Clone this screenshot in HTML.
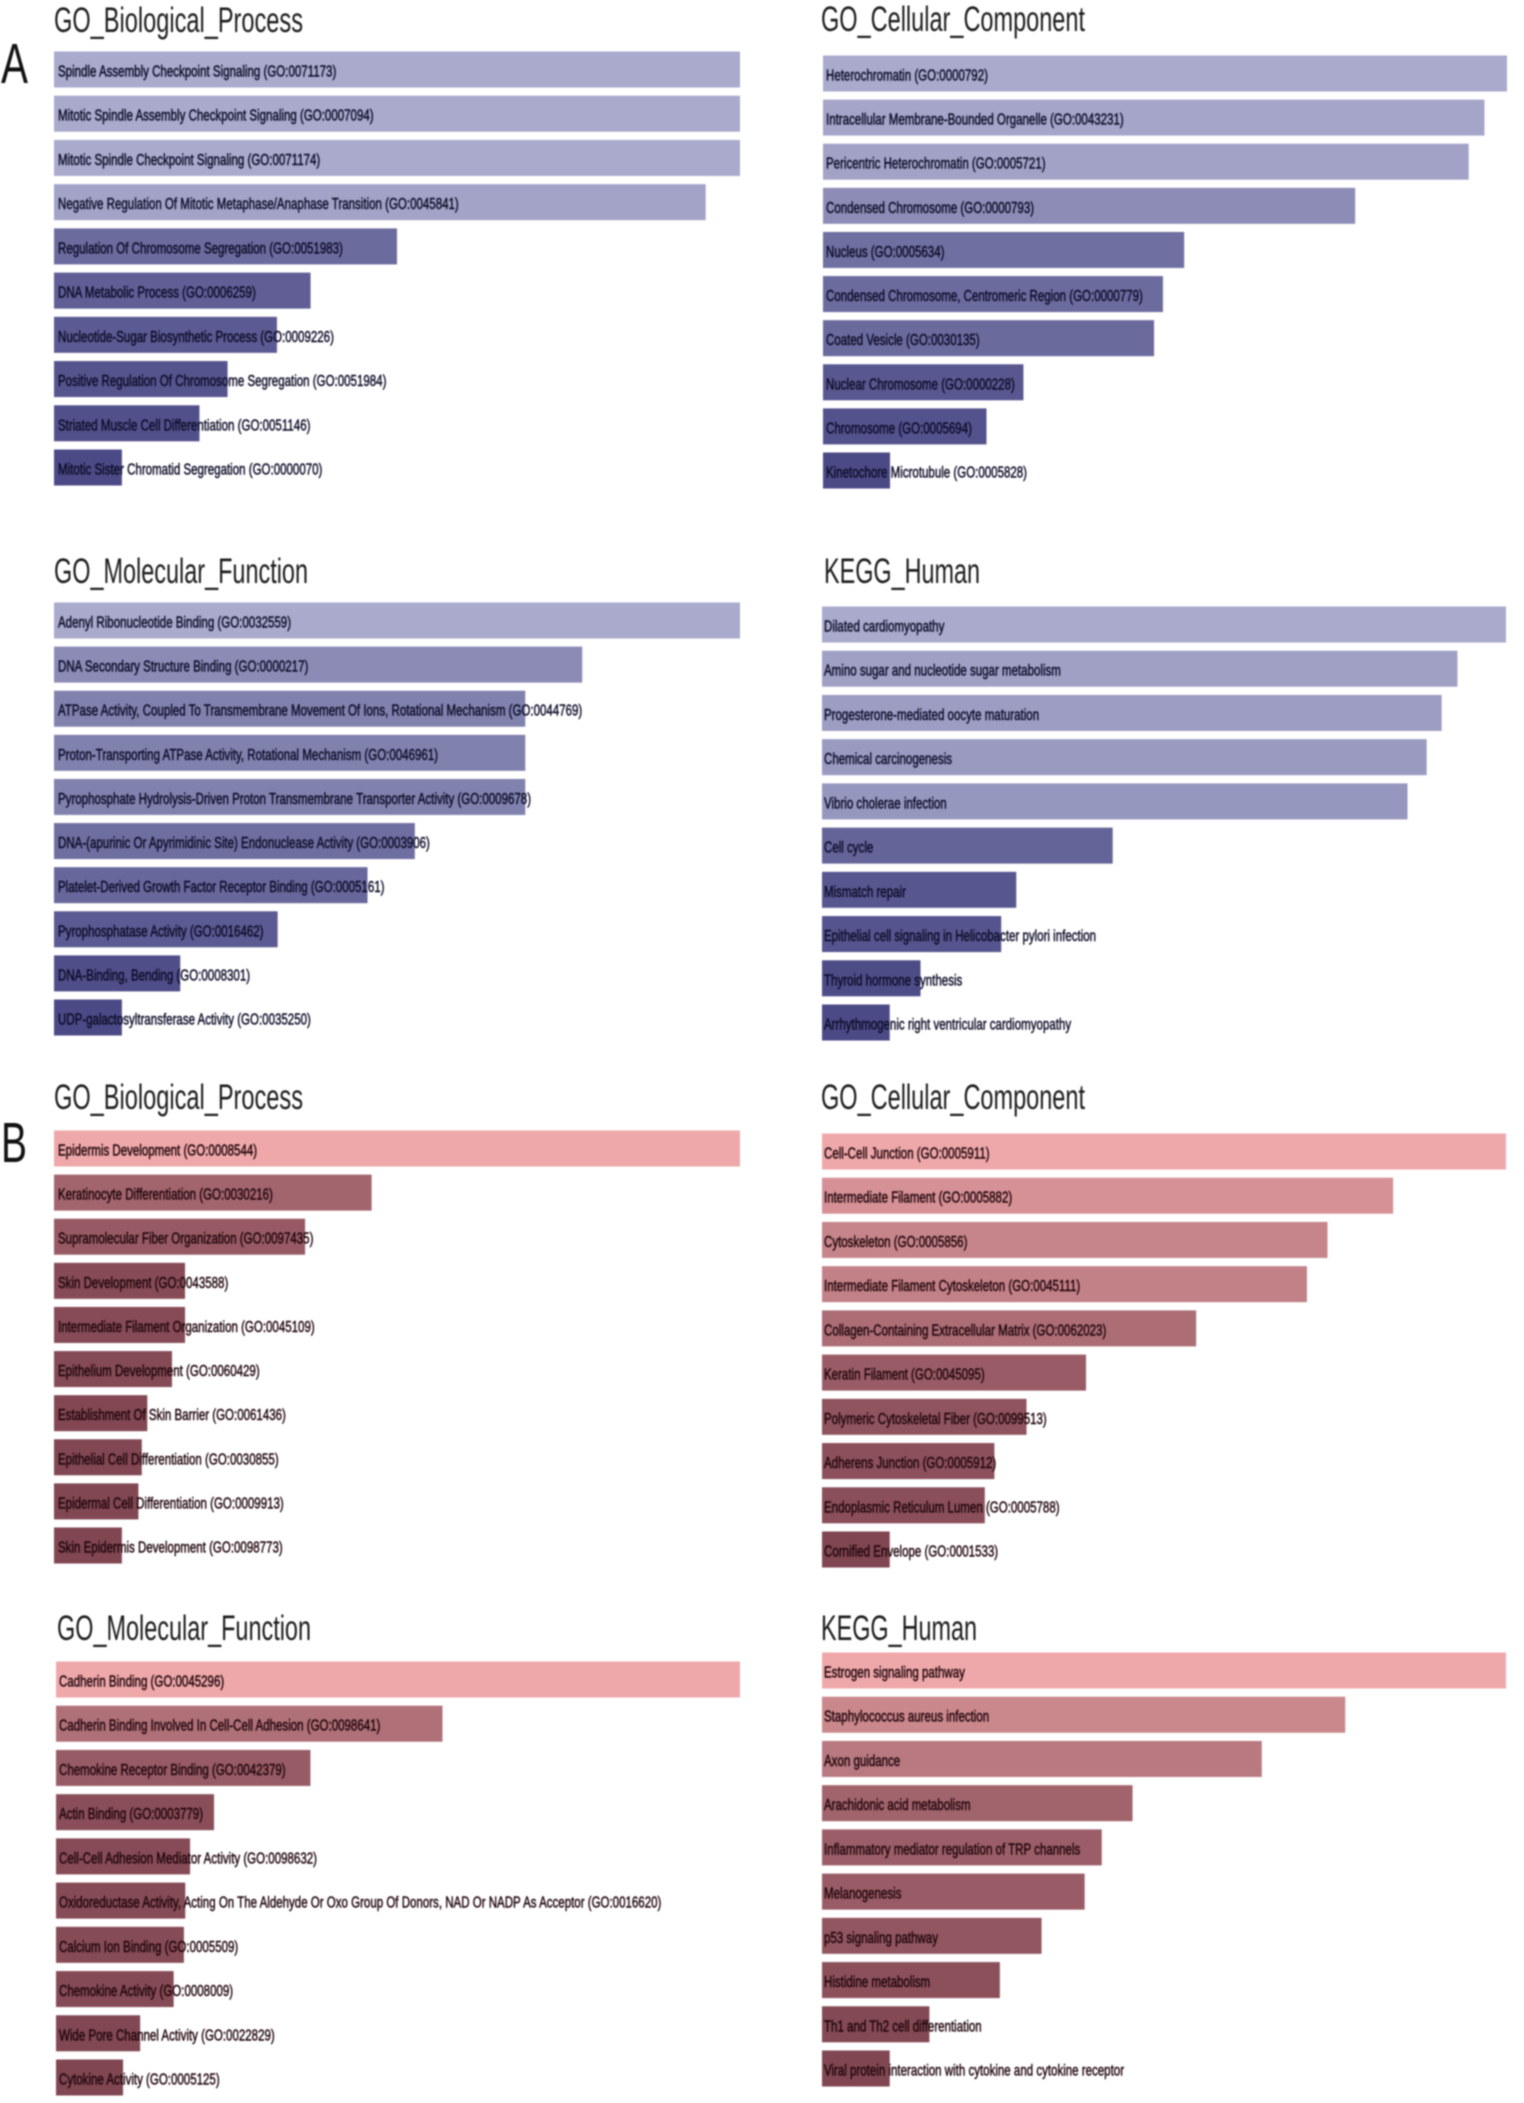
<!DOCTYPE html>
<html lang="en">
<head>
<meta charset="utf-8">
<title>Enrichment bar charts</title>
<style>
html,body{margin:0;padding:0;background:#fff;width:1524px;height:2103px;overflow:hidden}
svg{display:block;filter:blur(0.8px)}
text{font-family:"Liberation Sans",sans-serif}
</style>
</head>
<body>
<svg id="figure" xmlns="http://www.w3.org/2000/svg" width="1524" height="2103" viewBox="0 0 1524 2103">
<rect x="0" y="0" width="1524" height="2103" fill="#ffffff"/>
<text x="1" y="83" font-size="57" textLength="27" lengthAdjust="spacingAndGlyphs" fill="#111">A</text>
<text x="1" y="1162" font-size="57" textLength="26" lengthAdjust="spacingAndGlyphs" fill="#111">B</text>
</svg>
<script>
const aBpTerms = ["Spindle Assembly Checkpoint Signaling (GO:0071173)","Mitotic Spindle Assembly Checkpoint Signaling (GO:0007094)","Mitotic Spindle Checkpoint Signaling (GO:0071174)","Negative Regulation Of Mitotic Metaphase/Anaphase Transition (GO:0045841)","Regulation Of Chromosome Segregation (GO:0051983)","DNA Metabolic Process (GO:0006259)","Nucleotide-Sugar Biosynthetic Process (GO:0009226)","Positive Regulation Of Chromosome Segregation (GO:0051984)","Striated Muscle Cell Differentiation (GO:0051146)","Mitotic Sister Chromatid Segregation (GO:0000070)"];
const aBpScores = [100,100,100,95,50,37.4,32.5,25.3,21.2,9.9];

const aCcTerms = ["Heterochromatin (GO:0000792)","Intracellular Membrane-Bounded Organelle (GO:0043231)","Pericentric Heterochromatin (GO:0005721)","Condensed Chromosome (GO:0000793)","Nucleus (GO:0005634)","Condensed Chromosome, Centromeric Region (GO:0000779)","Coated Vesicle (GO:0030135)","Nuclear Chromosome (GO:0000228)","Chromosome (GO:0005694)","Kinetochore Microtubule (GO:0005828)"];
const aCcScores = [100,96.7,94.4,77.8,52.8,49.7,48.4,29.3,23.9,9.8];

const aMfTerms = ["Adenyl Ribonucleotide Binding (GO:0032559)","DNA Secondary Structure Binding (GO:0000217)","ATPase Activity, Coupled To Transmembrane Movement Of Ions, Rotational Mechanism (GO:0044769)","Proton-Transporting ATPase Activity, Rotational Mechanism (GO:0046961)","Pyrophosphate Hydrolysis-Driven Proton Transmembrane Transporter Activity (GO:0009678)","DNA-(apurinic Or Apyrimidinic Site) Endonuclease Activity (GO:0003906)","Platelet-Derived Growth Factor Receptor Binding (GO:0005161)","Pyrophosphatase Activity (GO:0016462)","DNA-Binding, Bending (GO:0008301)","UDP-galactosyltransferase Activity (GO:0035250)"];
const aMfScores = [100,77,68.7,68.7,68.7,52.6,45.7,32.6,18.4,9.9];

const aKeggTerms = ["Dilated cardiomyopathy","Amino sugar and nucleotide sugar metabolism","Progesterone-mediated oocyte maturation","Chemical carcinogenesis","Vibrio cholerae infection","Cell cycle","Mismatch repair","Epithelial cell signaling in Helicobacter pylori infection","Thyroid hormone synthesis","Arrhythmogenic right ventricular cardiomyopathy"];
const aKeggScores = [100,92.9,90.6,88.4,85.6,42.5,28.4,26.2,14.4,9.9];

const bBpTerms = ["Epidermis Development (GO:0008544)","Keratinocyte Differentiation (GO:0030216)","Supramolecular Fiber Organization (GO:0097435)","Skin Development (GO:0043588)","Intermediate Filament Organization (GO:0045109)","Epithelium Development (GO:0060429)","Establishment Of Skin Barrier (GO:0061436)","Epithelial Cell Differentiation (GO:0030855)","Epidermal Cell Differentiation (GO:0009913)","Skin Epidermis Development (GO:0098773)"];
const bBpScores = [100,46.3,36.6,19.1,19.1,17.2,13.6,12.8,12.3,9.9];

const bCcTerms = ["Cell-Cell Junction (GO:0005911)","Intermediate Filament (GO:0005882)","Cytoskeleton (GO:0005856)","Intermediate Filament Cytoskeleton (GO:0045111)","Collagen-Containing Extracellular Matrix (GO:0062023)","Keratin Filament (GO:0045095)","Polymeric Cytoskeletal Fiber (GO:0099513)","Adherens Junction (GO:0005912)","Endoplasmic Reticulum Lumen (GO:0005788)","Cornified Envelope (GO:0001533)"];
const bCcScores = [100,83.5,73.9,70.9,54.7,38.6,29.9,25.2,23.8,9.9];

const bMfTerms = ["Cadherin Binding (GO:0045296)","Cadherin Binding Involved In Cell-Cell Adhesion (GO:0098641)","Chemokine Receptor Binding (GO:0042379)","Actin Binding (GO:0003779)","Cell-Cell Adhesion Mediator Activity (GO:0098632)","Oxidoreductase Activity, Acting On The Aldehyde Or Oxo Group Of Donors, NAD Or NADP As Acceptor (GO:0016620)","Calcium Ion Binding (GO:0005509)","Chemokine Activity (GO:0008009)","Wide Pore Channel Activity (GO:0022829)","Cytokine Activity (GO:0005125)"];
const bMfScores = [100,56.5,37.2,23.1,19.6,18.9,18.7,17.2,12.3,9.8];

const bKeggTerms = ["Estrogen signaling pathway","Staphylococcus aureus infection","Axon guidance","Arachidonic acid metabolism","Inflammatory mediator regulation of TRP channels","Melanogenesis","p53 signaling pathway","Histidine metabolism","Th1 and Th2 cell differentiation","Viral protein interaction with cytokine and cytokine receptor"];
const bKeggScores = [100,76.5,64.3,45.4,40.9,38.4,32.1,26,15.7,9.9];

const SVG_NS = "http://www.w3.org/2000/svg";
const BLUE_RAMP = {light:[169,170,204], dark:[76,74,134], ink:"#0c0c28"};
const RED_RAMP = {light:[238,168,170], dark:[128,70,82], ink:"#20060c"};
const figure = document.getElementById("figure");

function scoreColor(v, ramp){
  const t = Math.pow(Math.max(0, (v - 10) / 90), 1.3);
  const c = ramp.dark.map((d, i) => Math.round(d + (ramp.light[i] - d) * t));
  return "rgb(" + c.join(",") + ")";
}

function drawPanel(p){
  const g = document.createElementNS(SVG_NS, "g");
  
  
  figure.appendChild(g);

  const title = document.createElementNS(SVG_NS, "text");
  
  
  title.setAttribute("x", p.titleX);
  title.setAttribute("y", p.titleY);
  title.setAttribute("font-size", 35);
  title.setAttribute("fill", "#1c1c1c");
  title.setAttribute("textLength", p.titleW);
  title.setAttribute("lengthAdjust", "spacingAndGlyphs");
  title.textContent = p.title;
  g.appendChild(title);

  const xScale = v => p.plotW * v / 100;
  const yScale = i => p.y0 + (p.y9 - p.y0) * i / (p.terms.length - 1);

  p.scores.forEach((v, i) => {
    const bar = document.createElementNS(SVG_NS, "rect");
    
    
    bar.setAttribute("x", p.x0);
    bar.setAttribute("y", yScale(i) - 18.5);
    bar.setAttribute("width", xScale(v));
    bar.setAttribute("height", 36);
    bar.setAttribute("fill", scoreColor(v, p.ramp));
    g.appendChild(bar);
  });

  p.terms.forEach((term, i) => {
    const label = document.createElementNS(SVG_NS, "text");
    
    
    label.setAttribute("transform", "translate(" + (p.x0 + p.labelDx) + "," + (yScale(i) + 6.5) + ") scale(0.72,1)");
    label.setAttribute("font-size", 16);
    label.setAttribute("fill", p.ramp.ink);
    label.setAttribute("stroke", p.ramp.ink);
    label.setAttribute("stroke-width", 0.45);
    label.textContent = term;
    g.appendChild(label);
  });
}

const panels = [
  {name:"panel-a-biological-process", title:"GO_Biological_Process", titleX:54, titleY:32, titleW:249, x0:54, plotW:686, labelDx:4, y0:70, y9:468, terms:aBpTerms, scores:aBpScores, ramp:BLUE_RAMP},
  {name:"panel-a-cellular-component", title:"GO_Cellular_Component", titleX:821, titleY:31, titleW:264, x0:823, plotW:684, labelDx:3, y0:74, y9:471, terms:aCcTerms, scores:aCcScores, ramp:BLUE_RAMP},
  {name:"panel-a-molecular-function", title:"GO_Molecular_Function", titleX:54, titleY:583, titleW:254, x0:54, plotW:686, labelDx:4, y0:621, y9:1018, terms:aMfTerms, scores:aMfScores, ramp:BLUE_RAMP},
  {name:"panel-a-kegg-human", title:"KEGG_Human", titleX:824, titleY:583, titleW:156, x0:822, plotW:684, labelDx:2, y0:625, y9:1023, terms:aKeggTerms, scores:aKeggScores, ramp:BLUE_RAMP},
  {name:"panel-b-biological-process", title:"GO_Biological_Process", titleX:54, titleY:1109, titleW:249, x0:54, plotW:686, labelDx:4, y0:1149, y9:1546, terms:bBpTerms, scores:bBpScores, ramp:RED_RAMP},
  {name:"panel-b-cellular-component", title:"GO_Cellular_Component", titleX:821, titleY:1109, titleW:264, x0:822, plotW:684, labelDx:2, y0:1152, y9:1550, terms:bCcTerms, scores:bCcScores, ramp:RED_RAMP},
  {name:"panel-b-molecular-function", title:"GO_Molecular_Function", titleX:57, titleY:1640, titleW:254, x0:56, plotW:684, labelDx:3, y0:1680, y9:2078, terms:bMfTerms, scores:bMfScores, ramp:RED_RAMP},
  {name:"panel-b-kegg-human", title:"KEGG_Human", titleX:821, titleY:1640, titleW:156, x0:822, plotW:684, labelDx:2, y0:1671, y9:2069, terms:bKeggTerms, scores:bKeggScores, ramp:RED_RAMP}
];
panels.forEach(drawPanel);
</script>
</body>
</html>
